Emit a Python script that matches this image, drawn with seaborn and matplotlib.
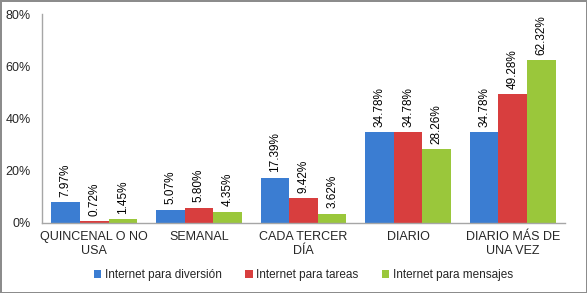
import matplotlib
matplotlib.use("Agg")
import matplotlib.pyplot as plt
import seaborn as sns
import pandas as pd

categories = ["QUINCENAL O NO\nUSA", "SEMANAL", "CADA TERCER\nDÍA", "DIARIO", "DIARIO MÁS DE\nUNA VEZ"]
series_names = ["Internet para diversión", "Internet para tareas", "Internet para mensajes"]
diversion = [7.97, 5.07, 17.39, 34.78, 34.78]
tareas = [0.72, 5.80, 9.42, 34.78, 49.28]
mensajes = [1.45, 4.35, 3.62, 28.26, 62.32]
y_ticks = [0, 20, 40, 60, 80]
colors = ["#3b7dd2", "#d83e3e", "#9ac73b"]

rows = []
for name, vals in zip(series_names, [diversion, tareas, mensajes]):
    for c, v in zip(categories, vals):
        rows.append({"cat": c, "serie": name, "val": v})
df = pd.DataFrame(rows)

sns.set_style("white")
plt.rcParams['font.family'] = ['Liberation Sans', 'DejaVu Sans']

fig = plt.figure(figsize=(5.87, 2.93), dpi=100)
fig.patch.set_edgecolor("#8c8c8c")
fig.patch.set_linewidth(2)
ax = fig.add_axes([0.0716, 0.239, 0.891, 0.713])

sns.barplot(data=df, x="cat", y="val", hue="serie", palette=colors,
            order=categories, hue_order=series_names, width=0.82,
            ax=ax, saturation=1, edgecolor="none")

for cont in ax.containers:
    ax.bar_label(cont, labels=[f"{v:.2f}%" for v in cont.datavalues],
                 rotation=90, padding=4, fontsize=8.5, color="#000000")

ax.set_ylim(0, 80)
ax.set_yticks(y_ticks)
ax.set_yticklabels([f"{t}%" for t in y_ticks], fontsize=9)
ax.set_xlabel("")
ax.set_ylabel("")
ax.tick_params(axis="x", labelsize=9, length=0, pad=6)
ax.tick_params(axis="y", length=0, pad=8)
for s in ["top", "right"]:
    ax.spines[s].set_visible(False)
for s in ["left", "bottom"]:
    ax.spines[s].set_color("#a6a6a6")
    ax.spines[s].set_linewidth(1)
ax.set_xlim(-0.5, 4.5)

leg = ax.legend(loc="center", bbox_to_anchor=(0.5, -0.25), ncol=3, frameon=False,
                fontsize=8.5, handlelength=0.6, handleheight=0.6, handletextpad=0.3,
                columnspacing=2.0, borderpad=0.1)

fig.savefig("out.png", dpi=100, edgecolor=fig.get_edgecolor())
